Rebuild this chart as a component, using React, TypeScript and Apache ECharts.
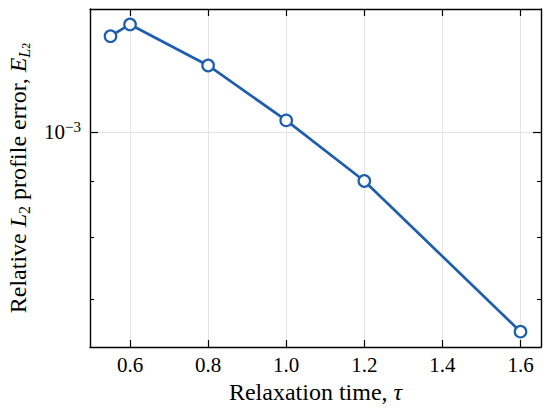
import React, { useEffect, useRef } from "react";
import * as echarts from "echarts";

const tau = [0.55, 0.6, 0.8, 1.0, 1.2, 1.6];
const errorL2 = [1.226e-3, 1.257e-3, 1.152e-3, 1.025e-3, 9.01e-4, 6.54e-4];
const xTicks = [0.6, 0.8, 1.0, 1.2, 1.4, 1.6];
const yMajorTicks = [1e-3];
const yMinorTicks = [7e-4, 8e-4, 9e-4];
const xRange = [0.4975, 1.6525];
const yRange = [6.33e-4, 1.299e-3];

const FONT = "Liberation Serif";
const BLUE = "#1d5fae";

export default function App() {
  const ref = useRef<HTMLDivElement>(null);
  useEffect(() => {
    if (!ref.current) return;
    const chart = echarts.init(ref.current, undefined, { renderer: "svg" });
    const baseLine = { show: true, lineStyle: { color: "#000", width: 1.4 } };
    const noLine = { show: false };
    const split = { show: true, lineStyle: { color: "#e4e4e4", width: 1 } };

    const xAxisCommon = {
      type: "value",
      min: xRange[0],
      max: xRange[1],
      axisLine: baseLine,
    };
    const yAxisCommon = {
      type: "log",
      min: yRange[0],
      max: yRange[1],
      logBase: 10,
    };

    chart.setOption({
      animation: false,
      textStyle: { fontFamily: FONT },
      grid: { left: 90, right: 9, top: 9, bottom: 62, containLabel: false, outerBoundsMode: "none" },
      xAxis: [
        {
          ...xAxisCommon,
          position: "bottom",
          name: "Relaxation time, {i|τ}",
          nameLocation: "middle",
          nameGap: 28,
          nameTextStyle: {
            fontFamily: FONT,
            fontSize: 24,
            color: "#000",
            rich: { i: { fontFamily: FONT, fontSize: 24, fontStyle: "italic", color: "#000" } },
          },
          axisTick: { show: true, inside: true, length: 7, customValues: xTicks, lineStyle: { color: "#000", width: 1.2 } },
          axisLabel: {
            show: true,
            customValues: xTicks,
            margin: 7,
            fontFamily: FONT,
            fontSize: 21,
            color: "#000",
            formatter: (v: number) => v.toFixed(1),
          },
          splitLine: split,
        },
        {
          ...xAxisCommon,
          position: "top",
          axisTick: { show: true, inside: true, length: 7, customValues: xTicks, lineStyle: { color: "#000", width: 1.2 } },
          axisLabel: { show: false },
          splitLine: { show: false },
        },
      ],
      yAxis: [
        {
          ...yAxisCommon,
          position: "left",
          axisLine: baseLine,
          name: "Relative {i|L}{s|2} profile error, {i|E}{si|L}{ss|2}",
          nameLocation: "middle",
          nameRotate: 90,
          nameGap: 58,
          nameTextStyle: {
            fontFamily: FONT,
            fontSize: 24,
            color: "#000",
            lineHeight: 28,
            rich: {
              i: { fontFamily: FONT, fontSize: 24, fontStyle: "italic", color: "#000", lineHeight: 28 },
              s: { fontFamily: FONT, fontSize: 16, color: "#000", verticalAlign: "bottom", lineHeight: 16 },
              si: { fontFamily: FONT, fontSize: 16, fontStyle: "italic", color: "#000", verticalAlign: "bottom", lineHeight: 16 },
              ss: { fontFamily: FONT, fontSize: 12, color: "#000", verticalAlign: "bottom", lineHeight: 11 },
            },
          },
          axisTick: { show: true, inside: true, length: 8, customValues: yMajorTicks, lineStyle: { color: "#000", width: 1.2 } },
          axisLabel: {
            show: true,
            customValues: yMajorTicks,
            margin: 9,
            fontFamily: FONT,
            fontSize: 21,
            color: "#000",
            formatter: () => "{b|10}{s|−3}",
            rich: {
              b: { fontFamily: FONT, fontSize: 21, color: "#000", lineHeight: 24 },
              s: { fontFamily: FONT, fontSize: 15, color: "#000", verticalAlign: "top", lineHeight: 14 },
            },
          },
          splitLine: split,
        },
        {
          ...yAxisCommon,
          position: "left",
          axisLine: noLine,
          axisTick: { show: true, inside: true, length: 4, customValues: yMinorTicks, lineStyle: { color: "#000", width: 1.1 } },
          axisLabel: { show: false },
          splitLine: { show: false },
        },
        {
          ...yAxisCommon,
          position: "right",
          axisLine: baseLine,
          axisTick: { show: true, inside: true, length: 8, customValues: yMajorTicks, lineStyle: { color: "#000", width: 1.2 } },
          axisLabel: { show: false },
          splitLine: { show: false },
        },
        {
          ...yAxisCommon,
          position: "right",
          axisLine: noLine,
          axisTick: { show: true, inside: true, length: 4, customValues: yMinorTicks, lineStyle: { color: "#000", width: 1.1 } },
          axisLabel: { show: false },
          splitLine: { show: false },
        },
      ],
      series: [
        {
          type: "line",
          xAxisIndex: 0,
          yAxisIndex: 0,
          data: tau.map((t, i) => [t, errorL2[i]]),
          symbol: "circle",
          symbolSize: 11.5,
          lineStyle: { color: BLUE, width: 2.7 },
          itemStyle: { color: "#fff", borderColor: BLUE, borderWidth: 2.2 },
          z: 5,
        },
      ],
    });
    return () => chart.dispose();
  }, []);
  return (
    <div
      ref={ref}
      style={{ position: "fixed", left: 0, top: 0, width: 550, height: 409, background: "#fff" }}
    />
  );
}
